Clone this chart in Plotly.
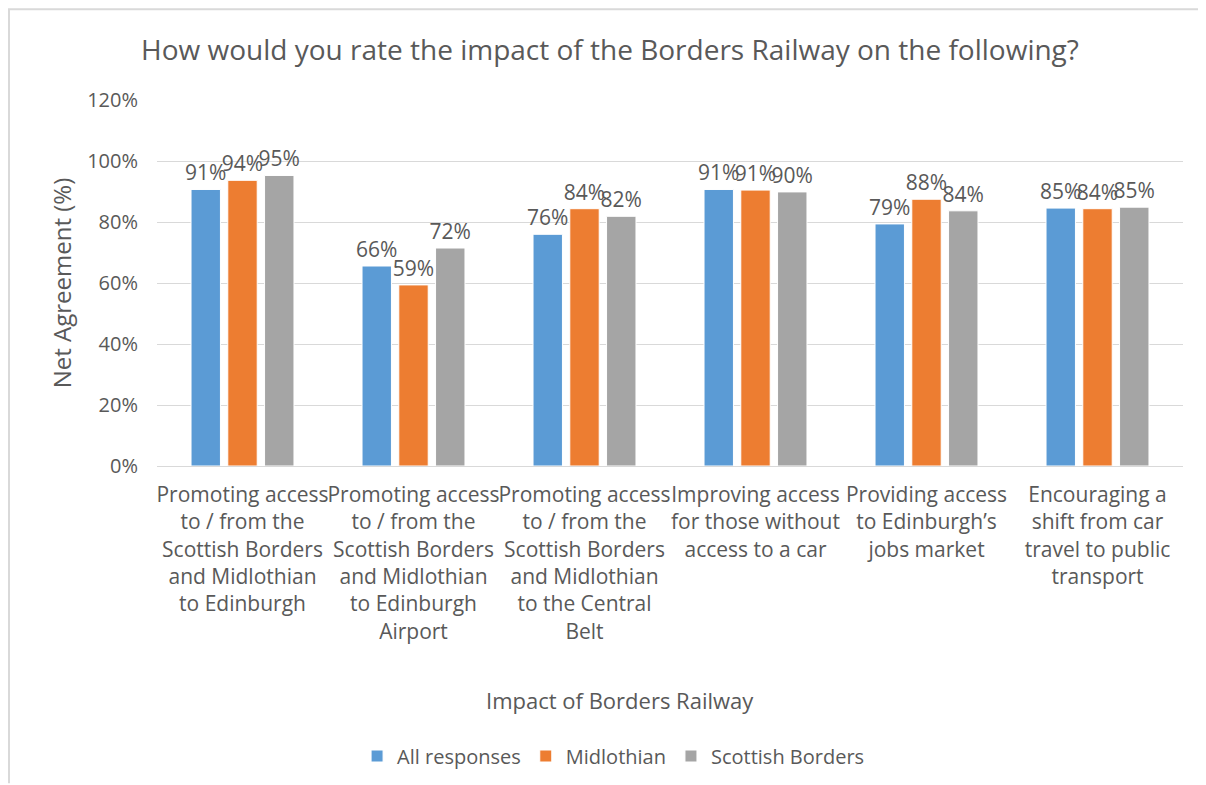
import plotly.graph_objects as go

# Borders Railway survey - net agreement by respondent group
categories = [
    "Promoting access<br>to / from the<br>Scottish Borders<br>and Midlothian<br>to Edinburgh",
    "Promoting access<br>to / from the<br>Scottish Borders<br>and Midlothian<br>to Edinburgh<br>Airport",
    "Promoting access<br>to / from the<br>Scottish Borders<br>and Midlothian<br>to the Central<br>Belt",
    "Improving access<br>for those without<br>access to a car",
    "Providing access<br>to Edinburgh’s<br>jobs market",
    "Encouraging a<br>shift from car<br>travel to public<br>transport",
]
all_responses = [0.907, 0.656, 0.760, 0.907, 0.794, 0.846]
midlothian = [0.937, 0.594, 0.844, 0.905, 0.875, 0.844]
scottish_borders = [0.953, 0.715, 0.819, 0.899, 0.837, 0.849]

series = [
    ("All responses", all_responses, "#5B9BD5"),
    ("Midlothian", midlothian, "#ED7D31"),
    ("Scottish Borders", scottish_borders, "#A5A5A5"),
]

txt = "#595959"
font = "Open Sans"

fig = go.Figure()
for name, vals, col in series:
    fig.add_trace(go.Bar(
        x=categories,
        y=vals,
        name=name,
        marker=dict(color=col, line=dict(color="white", width=1)),
        texttemplate="%{y:.0%}",
        textposition="outside",
        constraintext="none",
        textfont=dict(size=21, color=txt, family=font),
        cliponaxis=False,
    ))

# page body has an 8px margin, so the figure is 8px smaller each way
fig.update_layout(
    width=1198, height=777,
    barmode="group",
    bargap=0.355,
    bargroupgap=0.2,
    plot_bgcolor="white",
    paper_bgcolor="white",
    font=dict(family=font, color=txt, size=20),
    margin=dict(l=149, r=23, t=92, b=318),
    title=dict(
        text="How would you rate the impact of the Borders Railway on the following?",
        x=0.5025, xanchor="center", y=1 - 42 / 777, yanchor="middle",
        font=dict(size=28, color=txt, family=font),
    ),
    legend=dict(
        orientation="h", x=0.445, xanchor="center", y=-(748 - 459) / 367, yanchor="middle",
        font=dict(size=20, color=txt), itemwidth=30,
    ),
)
fig.update_yaxes(
    range=[0, 1.2005], tickvals=[0, 0.2, 0.4, 0.6, 0.8, 1.0, 1.2], tickformat=".0%",
    gridcolor="#D9D9D9", gridwidth=1,
    zeroline=True, zerolinecolor="#D9D9D9", zerolinewidth=1,
    showline=False, ticks="", ticklabelstandoff=18,
    tickfont=dict(size=20, color=txt),
    title=dict(text="Net Agreement (%)", font=dict(size=24, color=txt), standoff=8),
)
fig.update_xaxes(
    showline=False, ticks="", tickangle=0, ticklabelstandoff=14,
    tickfont=dict(size=21, color=txt),
)

# x axis title sits left of the plot centre in the original
fig.add_annotation(
    text="Impact of Borders Railway", xref="paper", yref="paper",
    x=0.451, y=-(694 - 459) / 367, xanchor="center", yanchor="middle",
    showarrow=False, font=dict(size=22, color=txt),
)

# chart border (top and left edges visible in the crop)
fig.add_shape(type="line", xref="paper", yref="paper",
              x0=-149 / 1026, x1=(1198 - 149) / 1026,
              y0=1 + 91 / 367, y1=1 + 91 / 367,
              line=dict(color="#D9D9D9", width=2))
fig.add_shape(type="line", xref="paper", yref="paper",
              x0=-148 / 1026, x1=-148 / 1026,
              y0=1 + 91 / 367, y1=-318 / 367,
              line=dict(color="#D9D9D9", width=2))

fig.write_html("out.html")
